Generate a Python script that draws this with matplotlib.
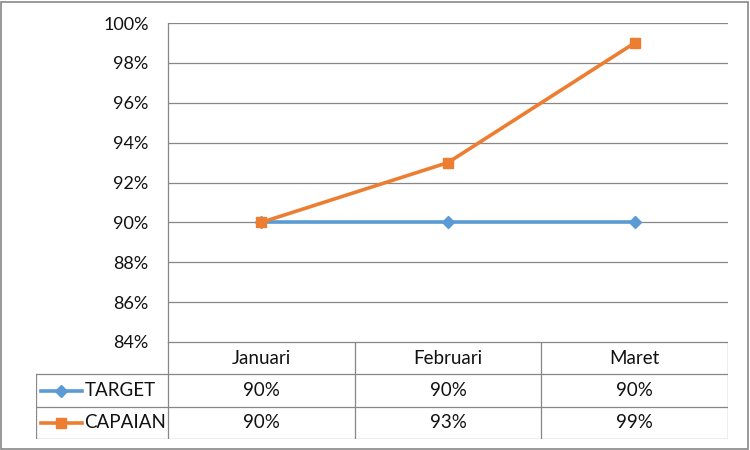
import numpy as np
import matplotlib.pyplot as plt
from matplotlib.lines import Line2D

plt.rcParams['font.family'] = ['Lato', 'DejaVu Sans']

bulan = ['Januari', 'Februari', 'Maret']
target = [0.90, 0.90, 0.90]
capaian = [0.90, 0.93, 0.99]
nama_seri = ['TARGET', 'CAPAIAN']
yticks = np.arange(0.84, 1.001, 0.02)

c_target = '#5B9BD5'
c_capaian = '#ED7D31'
c_grid = '#878787'

W, H = 750, 450
fig = plt.figure(figsize=(7.5, 4.5), dpi=100)

# plot area in pixels
x0, x1 = 168, 728
ytop, ybot = 23, 342
ax = fig.add_axes([x0/W, (H-ybot)/H, (x1-x0)/W, (ybot-ytop)/H])
x = np.arange(len(bulan))
ax.plot(x, target, color=c_target, lw=2.6, marker='D', ms=6, zorder=3)
ax.plot(x, capaian, color=c_capaian, lw=2.6, marker='s', ms=7, zorder=4)
ax.set_xlim(-0.5, len(bulan)-0.5)
ax.set_ylim(0.84, 1.00)
ax.set_yticks(yticks)
ax.set_yticklabels(['%d%%' % round(v*100) for v in yticks])
ax.set_xticks([])
ax.tick_params(axis='y', length=0, pad=14, labelsize=13, colors='#111111')
ax.grid(axis='y', color=c_grid, lw=0.9)
for s in ['top', 'right', 'bottom']:
    ax.spines[s].set_visible(False)
ax.spines['left'].set_color(c_grid)
ax.spines['left'].set_linewidth(0.9)

# data table under the plot
tleft, tbot = 36, 439
colw = (x1 - x0) / len(bulan)
lab_w = (x0 - tleft) / colw
tab = fig.add_axes([tleft/W, (H-tbot)/H, (x1-tleft)/W, (tbot-ybot)/H])
tab.set_xlim(-0.5 - lab_w, len(bulan)-0.5)
tab.set_ylim(3, 0)
tab.axis('off')
kw = dict(color=c_grid, lw=0.9)
# header row
tab.plot([-0.5, len(bulan)-0.5], [0, 0], **kw)
for i in range(len(bulan)+1):
    tab.plot([i-0.5, i-0.5], [0, 3], **kw)
for r in [1, 2, 3]:
    tab.plot([-0.5-lab_w, len(bulan)-0.5], [r, r], **kw)
tab.plot([-0.5-lab_w, -0.5-lab_w], [1, 3], **kw)

fs = 13.5
for i, b in enumerate(bulan):
    tab.text(i, 0.5, b, ha='center', va='center', fontsize=fs, color='#111111')
for r, (vals, nm, col, mk, ms) in enumerate([(target, nama_seri[0], c_target, 'D', 6),
                                             (capaian, nama_seri[1], c_capaian, 's', 7)]):
    yy = r + 1.5
    for i, v in enumerate(vals):
        tab.text(i, yy, '%d%%' % round(v*100), ha='center', va='center', fontsize=fs, color='#111111')
    lx0 = -0.5 - lab_w + 0.025
    lx1 = lx0 + 0.22
    tab.plot([lx0, lx1], [yy, yy], color=col, lw=2.6)
    tab.plot([(lx0+lx1)/2], [yy], color=col, marker=mk, ms=ms)
    tab.text(lx1 + 0.015, yy, nm, ha='left', va='center', fontsize=fs, color='#111111')

# chart frame
fig.add_artist(plt.Rectangle((1/W, 1/H), (W-3)/W, (H-3)/H, fill=False,
                             edgecolor=c_grid, lw=1.2, transform=fig.transFigure))

fig.savefig('out.png', dpi=100)
